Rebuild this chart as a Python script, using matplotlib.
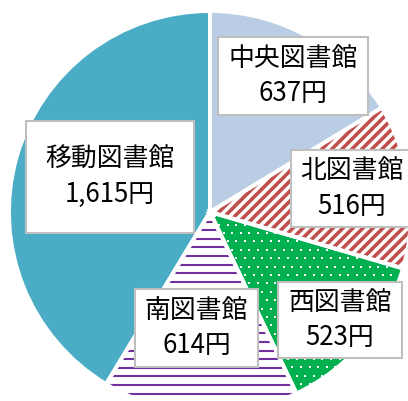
import matplotlib.pyplot as plt
from matplotlib.patches import Rectangle, Wedge
from matplotlib.collections import LineCollection
import numpy as np

plt.rcParams['font.family'] = ['Noto Sans CJK JP', 'DejaVu Sans']

names = ['中央図書館', '北図書館', '西図書館', '南図書館', '移動図書館']
values = [637, 516, 523, 614, 1615]

W, H = 408, 401
fig = plt.figure(figsize=(W / 100, H / 100), dpi=100)
ax = fig.add_axes([0, 0, 1, 1])

# pie centre / radius in pixels (y measured from the bottom)
cx, cy, r = 210, H - 212, 201
face = ['#B9CDE5', 'white', '#00B050', 'white', '#4BACC6']
wedges, _ = ax.pie(values, center=(cx, cy), radius=r, startangle=90,
                   counterclock=False, colors=face,
                   wedgeprops=dict(linewidth=0))

# 北: red diagonal stripes
offs = np.arange(-450, 450, 10)
segs = [[(o, 0), (o + H, H)] for o in offs]
lc = LineCollection(segs, colors='#C0504D', linewidths=2.6, capstyle='butt')
ax.add_collection(lc)
lc.set_clip_path(wedges[1])

# 西: white dots on green
pts = []
for j, yy in enumerate(np.arange(0, H, 8.4)):
    shift = 4.2 if j % 2 else 0
    for xx in np.arange(0, W, 8.6):
        pts.append((xx + shift, yy))
pts = np.array(pts)
sc = ax.scatter(pts[:, 0], pts[:, 1], s=2.2, marker='s', color='white',
                linewidths=0)
sc.set_clip_path(wedges[2])

# 南: purple horizontal lines
segs = [[(0, yy), (W, yy)] for yy in np.arange(H - 213, -10, -8.6)]
lc2 = LineCollection(segs, colors='#7030A0', linewidths=1.5)
ax.add_collection(lc2)
lc2.set_clip_path(wedges[3])

# white separators
for w in wedges:
    ax.add_patch(Wedge(w.center, w.r, w.theta1, w.theta2, fill=False,
                       edgecolor='white', linewidth=2.8, zorder=3))

# label boxes (x0, y0, x1, y1) in pixels from top-left
boxes = [(218, 37, 368, 115), (291, 150, 414, 227), (278, 282, 402, 358),
         (135, 289, 258, 367), (26, 121, 194, 233)]
for name, v, (x0, y0, x1, y1) in zip(names, values, boxes):
    ax.add_patch(Rectangle((x0, H - y1), x1 - x0, y1 - y0, facecolor='white',
                           edgecolor='#BFBFBF', linewidth=1.5, zorder=4))
    mx = (x0 + x1) / 2
    my = H - (y0 + y1) / 2
    if x1 > W:
        mx = 352
    ax.text(mx, my + 17.5, name, ha='center', va='center', fontsize=18.6,
            zorder=5)
    ax.text(mx, my - 17.5, f'{v:,}円', ha='center', va='center', fontsize=18.6,
            zorder=5)

ax.set_xlim(0, W)
ax.set_ylim(0, H)
ax.axis('off')
fig.savefig('out.png', dpi=100)
